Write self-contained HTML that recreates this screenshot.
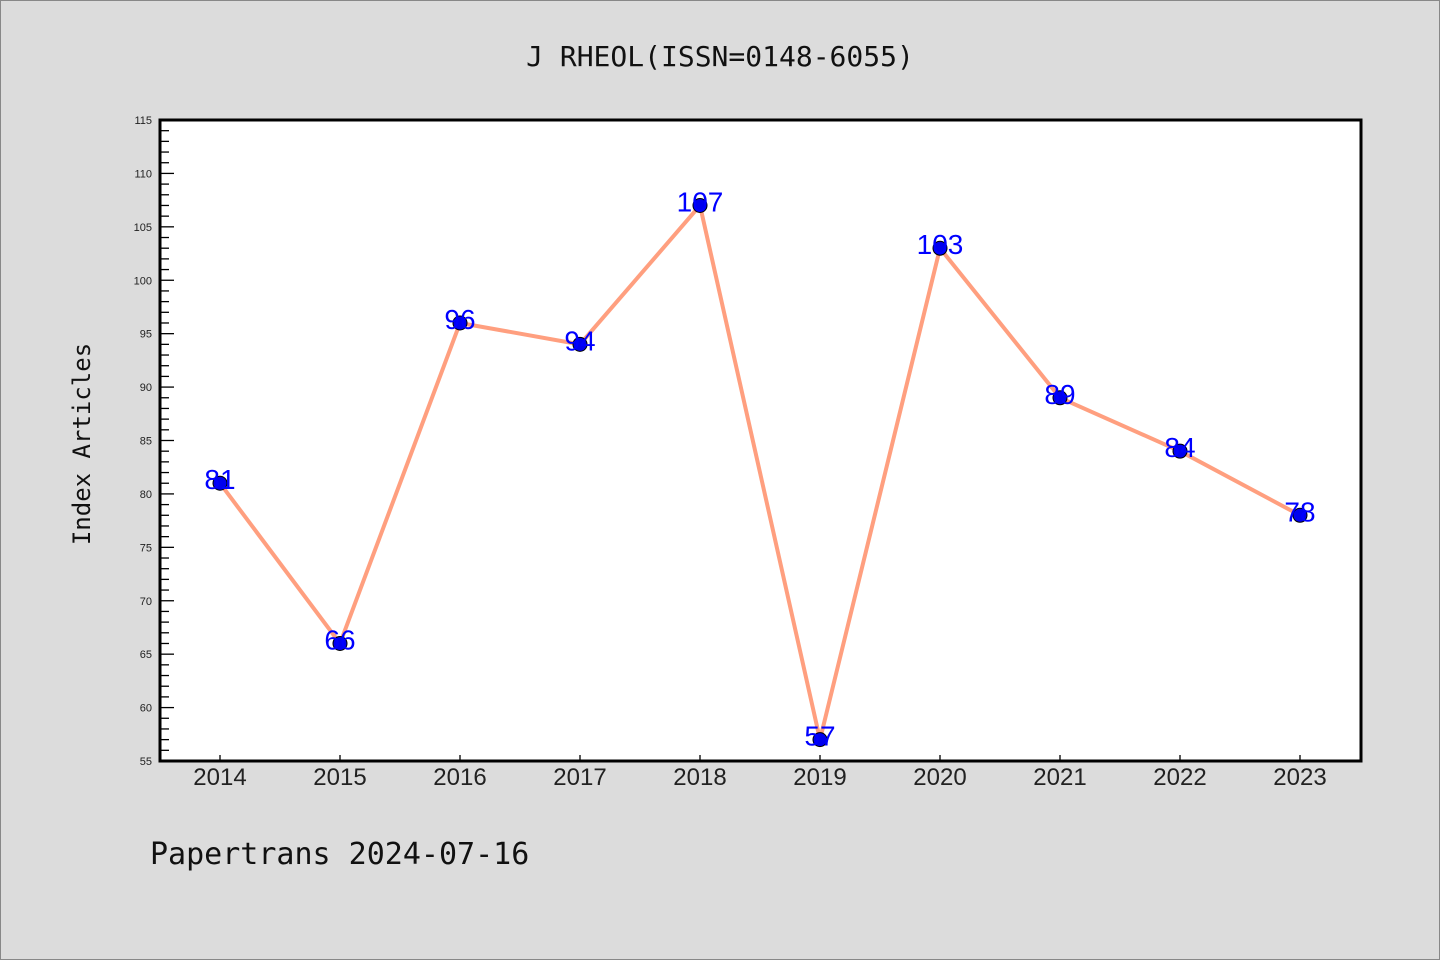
<!DOCTYPE html>
<html><head><meta charset="utf-8"><style>
body{margin:0;background:#dcdcdc;}
svg{display:block;font-family:"Liberation Sans","DejaVu Sans",sans-serif;}
</style></head><body>
<svg id="chart" width="1440" height="960">
<rect x="0.5" y="0.5" width="1439" height="959" fill="#dcdcdc" stroke="#888"/>
<text x="720" y="66" text-anchor="middle" font-size="28" fill="#111" font-family="DejaVu Sans Mono, monospace">J RHEOL(ISSN=0148-6055)</text>
<rect x="160" y="120" width="1201" height="641" fill="#fff"/>
<g id="yticks"></g><g id="xticks"></g><g id="series"></g>
<rect x="160" y="120" width="1201" height="641" fill="none" stroke="#000" stroke-width="3"/>
<text transform="translate(90,444) rotate(-90)" text-anchor="middle" font-size="24" fill="#111" font-family="DejaVu Sans Mono, monospace">Index Articles</text>
<text x="150" y="864" font-size="30" fill="#111" font-family="DejaVu Sans Mono, monospace">Papertrans 2024-07-16</text>
</svg>
<script>
const categories=["2014","2015","2016","2017","2018","2019","2020","2021","2022","2023"];
const values=[81,66,96,94,107,57,103,89,84,78];
const yTicks=[55,60,65,70,75,80,85,90,95,100,105,110,115];
const NS="http://www.w3.org/2000/svg";
const L=160,R=1361,T=120,B=761,yMin=55,yMax=115;
const x=i=>220+i*120;
const y=v=>B-(v-yMin)/(yMax-yMin)*(B-T);
function mk(tag,attrs,parent){const e=document.createElementNS(NS,tag);for(const k in attrs)e.setAttribute(k,attrs[k]);parent.appendChild(e);return e;}
const yt=document.getElementById('yticks');
for(let v=yMin;v<=yMax;v++){
  const major=(v%5===0);
  const t=mk('line',{x1:L,x2:L+(major?14:9),y1:y(v),y2:y(v),stroke:'#000','stroke-width':1.3},yt);
  
  
}
yTicks.forEach(v=>{
  const t=mk('text',{x:152,y:y(v)+4,'text-anchor':'end','font-size':11,fill:'#222'},yt);
  t.textContent=v;
  
  
});
const xt=document.getElementById('xticks');
categories.forEach((c,i)=>{
  const l=mk('line',{x1:x(i),x2:x(i),y1:B,y2:B-6,stroke:'#000','stroke-width':1.3},xt);
  
  
  const t=mk('text',{x:x(i),y:785,'text-anchor':'middle','font-size':24,fill:'#222'},xt);
  t.textContent=c;
  
  
});
const s=document.getElementById('series');
const pl=mk('polyline',{points:values.map((v,i)=>x(i)+','+y(v)).join(' '),fill:'none',stroke:'#ff9f7f','stroke-width':4,'stroke-linejoin':'round'},s);


values.forEach((v,i)=>{
  const c=mk('circle',{cx:x(i),cy:y(v),r:7,fill:'#0000ee',stroke:'#000','stroke-width':1},s);
  
  
  const t=mk('text',{x:x(i),y:y(v)+6,'text-anchor':'middle','font-size':28,fill:'#0000ff'},s);
  t.textContent=v;
  
  
});
</script>
</body></html>
